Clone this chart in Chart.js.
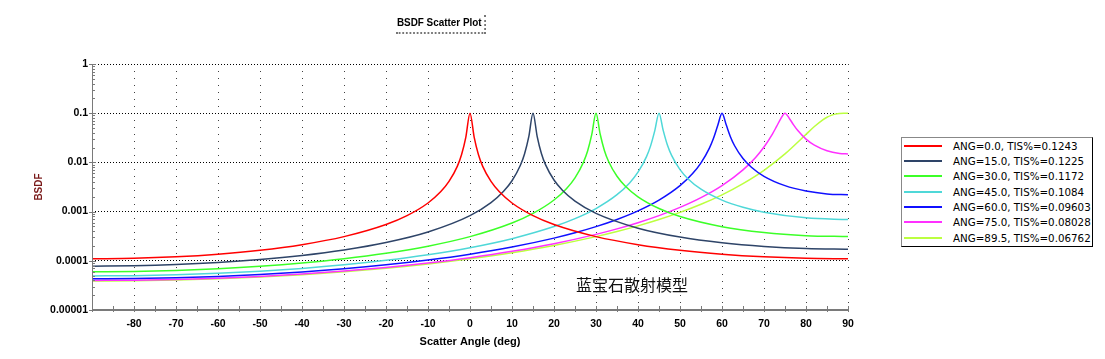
<!DOCTYPE html>
<html>
<head>
<meta charset="utf-8">
<script src="https://cdn.jsdelivr.net/npm/chart.js@4.4.1/dist/chart.umd.min.js"></script>
<style>
  html, body { margin: 0; padding: 0; background: #fff; }
  #wrap { position: relative; width: 1105px; height: 359px; overflow: hidden; }
  #c { position: absolute; left: 0; top: 0; }
  #title { position: absolute; left: 396px; top: 15px; font: bold 11px 'Liberation Sans', Arial, sans-serif; line-height: 14px; color: #000; padding: 0 3px 3px 1px; border-bottom: 2px dotted #777; border-right: 2px dotted #777; white-space: nowrap; transform: scaleX(0.9); transform-origin: 0 0; }
  #note { position: absolute; left: 576px; top: 275px; font: 16px 'Noto Sans CJK SC', sans-serif; line-height: 18px; color: #111; white-space: nowrap; }
  #legend { position: absolute; left: 901px; top: 137px; width: 192px; height: 110px; box-sizing: border-box; border: 1px solid #000; border-top-color: #888; border-left-color: #888; background: #fff; }
  .row { position: absolute; left: 0; height: 14px; width: 190px; }
  .row .ln { position: absolute; left: 2px; top: 6px; width: 38px; height: 2px; }
  .row .tx { position: absolute; left: 51px; top: 0; font: 10.3px 'DejaVu Sans', 'Liberation Sans', sans-serif; line-height: 14px; color: #000; white-space: nowrap; }
</style>
</head>
<body>
<div id="wrap">
  <canvas id="c" width="1105" height="359"></canvas>
  <div id="title"></div>
  <div id="note"></div>
  <div id="legend"></div>
</div>
<script>
// ---------- text ----------
const chartTitle = 'BSDF Scatter Plot';
const xAxisTitle = 'Scatter Angle (deg)';
const yAxisTitle = 'BSDF';
const noteText = '蓝宝石散射模型';

// ---------- ticks ----------
const xTickValues = [-90, -80, -70, -60, -50, -40, -30, -20, -10, 0, 10, 20, 30, 40, 50, 60, 70, 80, 90];
const xTickLabels = ['', '-80', '-70', '-60', '-50', '-40', '-30', '-20', '-10', '0', '10', '20', '30', '40', '50', '60', '70', '80', '90'];
const yTickValues = [0.00001, 0.0001, 0.001, 0.01, 0.1, 1];
const yTickLabels = ['0.00001', '0.0001', '0.001', '0.01', '0.1', '1'];

// ---------- series ----------
const seriesLabels = [
  'ANG=0.0, TIS%=0.1243',
  'ANG=15.0, TIS%=0.1225',
  'ANG=30.0, TIS%=0.1172',
  'ANG=45.0, TIS%=0.1084',
  'ANG=60.0, TIS%=0.09603',
  'ANG=75.0, TIS%=0.08028',
  'ANG=89.5, TIS%=0.06762'
];
const seriesColors = ['#ff0000', '#2e4468', '#3cff28', '#4fd8d8', '#1010ff', '#ff30ff', '#bcff40'];

const ang0 = [-90, -80, -70, -60, -50, -40, -30, -20, -15, -10, -7, -5, -3, -2, -1, 0, 1, 2, 3, 5, 7, 10, 15, 20, 30, 40, 50, 60, 70, 80, 90];
const val0 = [1.099e-4, 1.124e-4, 1.206e-4, 1.363e-4, 1.638e-4, 2.13e-4, 3.10e-4, 5.47e-4, 8.28e-4, 1.497e-3, 2.52e-3, 4.10e-3, 8.41e-3, 1.444e-2, 3.23e-2, 0.1, 3.23e-2, 1.444e-2, 8.41e-3, 4.10e-3, 2.52e-3, 1.497e-3, 8.28e-4, 5.47e-4, 3.10e-4, 2.13e-4, 1.638e-4, 1.363e-4, 1.206e-4, 1.124e-4, 1.099e-4];

const ang15 = [-90, -80, -70, -60, -50, -40, -30, -20, -10, 0, 5, 8, 10, 12, 13, 14, 15, 16, 17, 18, 20, 22, 25, 30, 40, 50, 60, 70, 80, 90];
const val15 = [7.78e-5, 7.93e-5, 8.38e-5, 9.21e-5, 1.059e-4, 1.283e-4, 1.661e-4, 2.356e-4, 3.853e-4, 8.28e-4, 1.523e-3, 2.589e-3, 4.238e-3, 8.74e-3, 1.50e-2, 3.336e-2, 0.1, 3.353e-2, 1.518e-2, 8.91e-3, 4.383e-3, 2.716e-3, 1.632e-3, 9.20e-4, 4.602e-4, 3.036e-4, 2.319e-4, 1.954e-4, 1.775e-4, 1.721e-4];

const ang30 = [-90, -80, -70, -60, -50, -40, -30, -20, -10, 0, 10, 15, 20, 23, 25, 27, 28, 29, 30, 31, 32, 33, 35, 37, 40, 45, 50, 60, 70, 80, 90];
const val30 = [5.984e-5, 6.076e-5, 6.364e-5, 6.885e-5, 7.716e-5, 8.996e-5, 1.099e-4, 1.422e-4, 1.986e-4, 3.102e-4, 5.866e-4, 9.20e-4, 1.722e-3, 2.955e-3, 4.862e-3, 1.003e-2, 1.709e-2, 3.701e-2, 0.1, 3.735e-2, 1.753e-2, 1.044e-2, 5.223e-3, 3.275e-3, 1.998e-3, 1.154e-3, 7.953e-4, 4.943e-4, 3.759e-4, 3.248e-4, 3.102e-4];

const ang45 = [-90, -80, -70, -60, -50, -40, -30, -20, -10, 0, 10, 20, 25, 30, 35, 38, 40, 42, 43, 44, 45, 46, 47, 48, 50, 52, 55, 60, 65, 70, 80, 90];
const val45 = [4.929e-5, 4.996e-5, 5.202e-5, 5.572e-5, 6.148e-5, 7.009e-5, 8.287e-5, 1.023e-4, 1.329e-4, 1.847e-4, 2.815e-4, 4.962e-4, 7.197e-4, 1.154e-3, 2.205e-3, 3.825e-3, 6.318e-3, 1.294e-2, 2.166e-2, 4.419e-2, 0.1, 4.484e-2, 2.257e-2, 1.386e-2, 7.14e-3, 4.562e-3, 2.85e-3, 1.707e-3, 1.222e-3, 9.711e-4, 7.461e-4, 6.892e-4];

const ang60 = [-90, -80, -70, -60, -50, -40, -30, -20, -10, 0, 10, 20, 25, 30, 35, 40, 45, 50, 53, 55, 57, 58, 59, 60, 61, 62, 63, 65, 67, 70, 75, 80, 85, 90];
const val60 = [4.313e-5, 4.367e-5, 4.531e-5, 4.823e-5, 5.273e-5, 5.932e-5, 6.885e-5, 8.278e-5, 1.037e-4, 1.363e-4, 1.906e-4, 2.891e-4, 3.712e-4, 4.943e-4, 6.907e-4, 1.032e-3, 1.707e-3, 3.362e-3, 5.916e-3, 9.78e-3, 1.955e-2, 3.133e-2, 5.688e-2, 0.1, 5.802e-2, 3.332e-2, 2.179e-2, 1.198e-2, 7.964e-3, 5.215e-3, 3.366e-3, 2.617e-3, 2.289e-3, 2.194e-3];

const ang75 = [-90, -80, -70, -60, -50, -40, -30, -20, -10, 0, 10, 20, 30, 35, 40, 45, 50, 55, 60, 65, 68, 70, 72, 73, 74, 75, 76, 77, 78, 80, 82, 85, 88, 90];
const val75 = [3.989e-5, 4.036e-5, 4.18e-5, 4.434e-5, 4.824e-5, 5.388e-5, 6.194e-5, 7.348e-5, 9.034e-5, 1.157e-4, 1.557e-4, 2.227e-4, 3.447e-4, 4.456e-4, 5.953e-4, 8.285e-4, 1.216e-3, 1.919e-3, 3.366e-3, 7.029e-3, 1.26e-2, 2.056e-2, 3.776e-2, 5.379e-2, 7.752e-2, 0.1, 7.92e-2, 5.867e-2, 4.488e-2, 2.978e-2, 2.246e-2, 1.728e-2, 1.524e-2, 1.489e-2];

const ang89 = [-90, -80, -70, -60, -50, -40, -30, -20, -10, 0, 10, 20, 30, 35, 40, 45, 50, 55, 60, 65, 70, 75, 80, 82, 84, 85, 86, 87, 88, 89, 89.5, 90];
const val89 = [3.888e-5, 3.932e-5, 4.07e-5, 4.314e-5, 4.685e-5, 5.222e-5, 5.984e-5, 7.071e-5, 8.644e-5, 1.099e-4, 1.462e-4, 2.057e-4, 3.102e-4, 3.935e-4, 5.127e-4, 6.892e-4, 9.629e-4, 1.41e-3, 2.195e-3, 3.715e-3, 6.92e-3, 1.491e-2, 3.71e-2, 5.355e-2, 7.328e-2, 8.264e-2, 9.031e-2, 9.578e-2, 9.878e-2, 9.989e-2, 0.1, 0.1];

const seriesAngles = [ang0, ang15, ang30, ang45, ang60, ang75, ang89];
const seriesValues = [val0, val15, val30, val45, val60, val75, val89];

// ---------- fonts ----------
const boldFamily = "'Liberation Sans', Arial, sans-serif";

const datasets = seriesLabels.map((label, k) => ({
  label,
  data: seriesAngles[k].map((a, i) => ({ x: a, y: seriesValues[k][i] })),
  borderColor: seriesColors[k],
  backgroundColor: seriesColors[k],
  borderWidth: 1.5,
  pointRadius: 0,
  fill: false,
  cubicInterpolationMode: 'monotone'
}));

const axisPlugin = {
  id: 'axisLines',
  afterDraw(chart) {
    const { ctx, chartArea: a, scales: { x, y } } = chart;
    ctx.save();
    ctx.strokeStyle = '#7a7a7a';
    ctx.lineWidth = 1;
    ctx.beginPath();
    ctx.moveTo(a.left + 0.5, a.top);
    ctx.lineTo(a.left + 0.5, a.bottom);
    ctx.stroke();
    const yt = y.ticks.map(t => t.value);
    yt.forEach((d, i) => {
      const py = Math.round(y.getPixelForValue(d)) + 0.5;
      ctx.beginPath(); ctx.moveTo(a.left - 3, py); ctx.lineTo(a.left + 4, py); ctx.stroke();
      if (i < yt.length - 1) {
        for (let m = 2; m <= 9; m++) {
          const pm = Math.round(y.getPixelForValue(d * m)) + 0.5;
          ctx.beginPath(); ctx.moveTo(a.left, pm); ctx.lineTo(a.left + 3, pm); ctx.stroke();
        }
      }
    });
    const xt = x.ticks.map(t => t.value);
    const marks = [];
    xt.forEach((v, i) => { marks.push(v); if (i < xt.length - 1) marks.push((v + xt[i + 1]) / 2); });
    marks.forEach(v => {
      const px = Math.round(x.getPixelForValue(v)) + 0.5;
      ctx.beginPath(); ctx.moveTo(px, a.bottom - 4); ctx.lineTo(px, a.bottom + 2); ctx.stroke();
    });
    ctx.lineWidth = 2;
    ctx.beginPath();
    ctx.moveTo(a.left, a.bottom);
    ctx.lineTo(a.right + 1, a.bottom);
    ctx.stroke();
    ctx.restore();
  }
};

const chart = new Chart(document.getElementById('c'), {
  type: 'line',
  data: { datasets },
  options: {
    responsive: false,
    animation: false,
    layout: { padding: { left: 30, right: 257, top: 64, bottom: 10 } },
    plugins: { legend: { display: false }, title: { display: false }, tooltip: { enabled: false } },
    scales: {
      x: {
        type: 'linear', min: -90, max: 90,
        afterBuildTicks: s => { s.ticks = xTickValues.map(v => ({ value: v })); },
        afterFit: s => { s.height = 39; },
        ticks: {
          autoSkip: false, maxRotation: 0, minRotation: 0, padding: 8, color: '#000',
          font: { family: boldFamily, size: 10.5, weight: 'bold' },
          callback: (v, i) => xTickLabels[i]
        },
        grid: { color: 'rgba(0,0,0,0.75)', lineWidth: 1, drawTicks: false },
        border: { display: false, dash: [1, 6] },
        title: { display: true, text: xAxisTitle, color: '#000', padding: { top: 0, bottom: 0 },
                 font: { family: boldFamily, size: 11, weight: 'bold' } }
      },
      y: {
        type: 'logarithmic', min: 0.00001, max: 1,
        afterBuildTicks: s => { s.ticks = yTickValues.map(v => ({ value: v })); },
        afterFit: s => { s.width = 62; },
        ticks: {
          autoSkip: false, padding: 4, color: '#000',
          font: { family: boldFamily, size: 10.5, weight: 'bold' },
          callback: (v, i) => yTickLabels[i]
        },
        grid: { color: '#000', lineWidth: 1, drawTicks: false },
        border: { display: false, dash: [1, 2] },
        title: { display: true, text: yAxisTitle, color: '#7a1a1a', padding: { top: 3, bottom: 0 },
                 font: { family: boldFamily, size: 10, weight: 'bold' } }
      }
    }
  },
  plugins: [axisPlugin]
});

// ---------- overlays ----------
document.getElementById('title').textContent = chartTitle;
document.getElementById('note').textContent = noteText;
const lg = document.getElementById('legend');
chart.data.datasets.forEach((ds, k) => {
  const row = document.createElement('div');
  row.className = 'row';
  row.style.top = Math.round(0.7 + 15.35 * k) + 'px';
  const ln = document.createElement('div');
  ln.className = 'ln';
  ln.style.background = ds.borderColor;
  const tx = document.createElement('div');
  tx.className = 'tx';
  tx.textContent = ds.label;
  row.appendChild(ln); row.appendChild(tx);
  lg.appendChild(row);
});
</script>
</body>
</html>
